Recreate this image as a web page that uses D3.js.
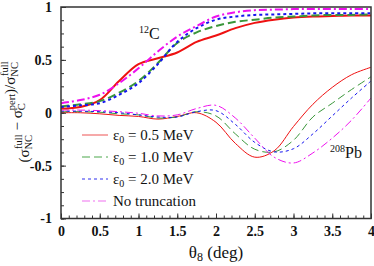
<!DOCTYPE html>
<html><head><meta charset="utf-8">
<script src="https://cdn.jsdelivr.net/npm/d3@7"></script>
<style>body{margin:0;background:#fff}svg{display:block}text{font-family:"Liberation Serif","Times New Roman",Times,"DejaVu Serif","Noto Serif",serif}</style>
</head><body><svg id="c" width="374" height="266"></svg>
<script>
const xs = [0,0.25,0.5,0.75,1,1.25,1.5,1.75,2,2.25,2.5,2.75,3,3.25,3.5,3.75,4];
// 12C curves
const c12_e05 = [0.04,0.055,0.12,0.30,0.46,0.515,0.57,0.67,0.73,0.80,0.85,0.88,0.90,0.91,0.915,0.92,0.92];
const c12_e10 = [0.06,0.08,0.11,0.19,0.30,0.47,0.66,0.76,0.82,0.86,0.88,0.90,0.91,0.92,0.925,0.925,0.93];
const c12_e20 = [0.055,0.07,0.09,0.17,0.28,0.46,0.67,0.80,0.88,0.91,0.925,0.93,0.935,0.94,0.94,0.94,0.94];
const c12_none = [0.09,0.12,0.17,0.28,0.42,0.58,0.72,0.82,0.91,0.95,0.97,0.975,0.98,0.98,0.98,0.98,0.98];
// 208Pb curves
const pb_e05 = [0,0,-0.01,-0.025,-0.035,-0.06,-0.035,0.0,-0.09,-0.29,-0.42,-0.36,-0.13,0.08,0.24,0.36,0.43];
const pb_e10 = [0.01,0.01,0.005,-0.01,-0.02,-0.05,-0.04,0.01,-0.03,-0.20,-0.345,-0.37,-0.26,-0.04,0.09,0.22,0.34];
const pb_e20 = [0.015,0.015,0.01,0.0,-0.02,-0.04,-0.04,0.01,0.02,-0.11,-0.28,-0.37,-0.34,-0.20,-0.03,0.14,0.30];
const pb_none = [0.025,0.025,0.02,0.01,-0.005,-0.03,-0.02,0.04,0.07,-0.05,-0.24,-0.42,-0.475,-0.38,-0.24,-0.07,0.14];
const legendLabels = ["= 0.5 MeV","= 1.0 MeV","= 2.0 MeV","No truncation"];
const xTicks = [0,0.5,1,1.5,2,2.5,3,3.5,4];
const xTickLabels = ["0","0.5","1","1.5","2","2.5","3","3.5","4"];
const yTicks = [-1,-0.5,0,0.5,1];
const yTickLabels = ["-1","-0.5","0","0.5","1"];

const colors = ["#ee1111","#3a963a","#1414ee","#ee11ee"];
const dashes = [null,"8,4","3,3","8,3,2,3"];
const legendColors = ["#f07070","#4ca84c","#3030f0","#f070f0"];
const FONT = '"Liberation Serif","Times New Roman",Times,"DejaVu Serif","Noto Serif",serif';

const svg = d3.select("#c");
const L=61,R=371,T=7,B=218.5;
const x = d3.scaleLinear().domain([0,4]).range([L,R]);
const y = d3.scaleLinear().domain([-1,1]).range([B,T]);

const line = d3.line().x((d,i)=>x(xs[i])).y(d=>y(d)).curve(d3.curveCatmullRom.alpha(0.5));
const g = svg.append("g");
g.append("clipPath").attr("id","clp").append("rect").attr("x",L).attr("y",T).attr("width",R-L).attr("height",B-T);
const plot = g.append("g").attr("clip-path","url(#clp)");

[pb_e05,pb_e10,pb_e20,pb_none].forEach((s,i)=>{
  plot.append("path").attr("d",line(s)).attr("fill","none").attr("stroke",colors[i])
    .attr("stroke-width",1).attr("stroke-dasharray",dashes[i]);
});
[c12_e05,c12_e10,c12_e20,c12_none].forEach((s,i)=>{
  plot.append("path").attr("d",line(s)).attr("fill","none").attr("stroke",colors[i])
    .attr("stroke-width",2).attr("stroke-dasharray",dashes[i]);
});

// axes
const axisColor="#333";
const xMinor = d3.range(0,4.0001,0.1);
const yMinor = d3.range(-1,1.0001,0.125);
const xa = d3.axisBottom(x).tickValues(xTicks).tickSize(-5).tickPadding(8).tickFormat((d,i)=>xTickLabels[i]);
const xaMinor = d3.axisBottom(x).tickValues(xMinor).tickSize(-3).tickFormat("");
const ya = d3.axisLeft(y).tickValues(yTicks).tickSize(-5).tickPadding(9).tickFormat((d,i)=>yTickLabels[i]);
const yaMinor = d3.axisLeft(y).tickValues(yMinor).tickSize(-3).tickFormat("");
[ [xaMinor,"b"],[xa,"b"],[yaMinor,"l"],[ya,"l"] ].forEach(([ax,s])=>{
  const a = g.append("g").attr("transform", s==="b" ? `translate(0,${B})` : `translate(${L},0)`).call(ax);
  a.attr("font-family",FONT);
  a.select(".domain").remove();
  a.selectAll("line").attr("stroke",axisColor).attr("stroke-width",1);
  a.selectAll("text").attr("font-size",14).attr("font-weight","bold").attr("fill","#111")
   .style("font-family",FONT);
});
g.append("rect").attr("x",L).attr("y",T).attr("width",R-L).attr("height",B-T)
  .attr("fill","none").attr("stroke",axisColor).attr("stroke-width",1.5);

// x title
const xt = svg.append("text").attr("x",216).attr("y",258).attr("text-anchor","middle").attr("font-size",17).attr("fill","#111");
xt.append("tspan").text("θ");
xt.append("tspan").text("8").attr("font-size",12).attr("dy",3);
xt.append("tspan").text(" (deg)").attr("dy",-3);

// y title
const yt = svg.append("text").attr("transform","translate(29,112) rotate(-90)").attr("text-anchor","middle").attr("font-size",15).attr("fill","#111");
function sig(t,sub,sup){
  t.append("tspan").text("σ");
  t.append("tspan").text(sub).attr("font-size",10.5).attr("dy",3);
  t.append("tspan").text(sup).attr("font-size",10.5).attr("dx",-(sub.length*7)).attr("dy",-10);
  t.append("tspan").text("").attr("dy",7);
}
yt.append("tspan").text("(");
sig(yt,"NC","full");
yt.append("tspan").text(" − ");
sig(yt,"C","pert");
yt.append("tspan").text(")/");
sig(yt,"NC","full");

// legend
legendLabels.forEach((lab,i)=>{
  const yy = 135 + i*22;
  svg.append("line").attr("x1",82).attr("x2",108).attr("y1",yy).attr("y2",yy)
    .attr("stroke",legendColors[i]).attr("stroke-width",1.2).attr("stroke-dasharray",dashes[i]);
  const t = svg.append("text").attr("x",113).attr("y",yy+5).attr("font-size",15).attr("fill","#111");
  if(i<3){
    t.append("tspan").text("ε");
    t.append("tspan").text("0").attr("font-size",10).attr("dy",3);
    t.append("tspan").text(" "+lab).attr("dy",-3);
  } else t.text(lab);
});

// nucleus labels
const t12 = svg.append("text").attr("x",139).attr("y",39).attr("font-size",16).attr("fill","#111");
t12.append("tspan").text("12").attr("font-size",10).attr("dy",-6);
t12.append("tspan").text("C").attr("dy",6);
const t208 = svg.append("text").attr("x",330).attr("y",158).attr("font-size",16).attr("fill","#111");
t208.append("tspan").text("208").attr("font-size",10).attr("dy",-6);
t208.append("tspan").text("Pb").attr("dy",6);
</script></body></html>
